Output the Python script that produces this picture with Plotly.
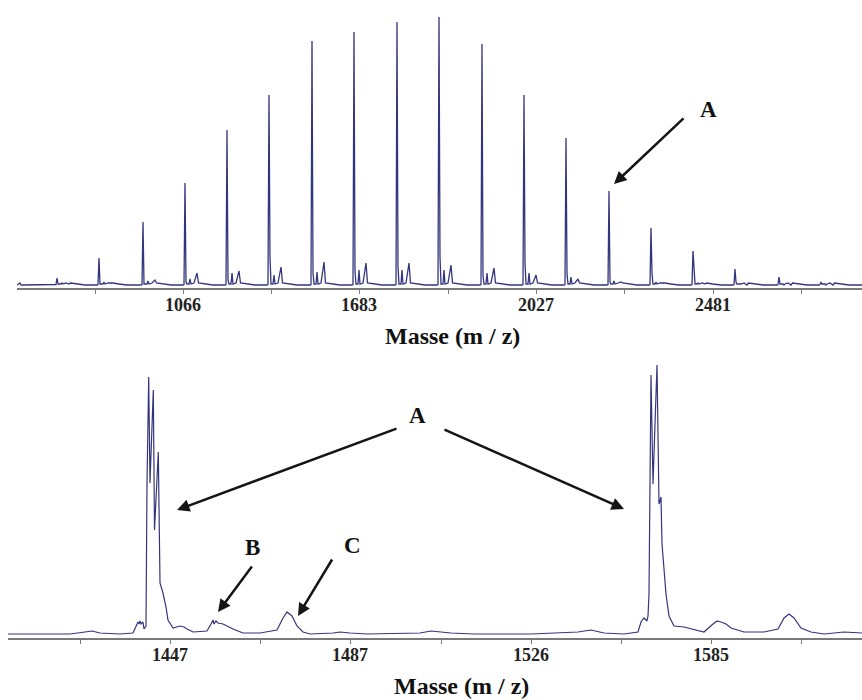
import plotly.graph_objects as go

# ---------------- data ----------------
# Top spectrum: main peak positions (axis units) and intensities
top_peak_pos = [57, 99, 143, 185, 227, 269, 312, 354, 397, 439, 482, 524, 566, 609, 651, 693, 735, 779, 821]
top_peak_h = [7, 27, 63, 102, 155, 190, 244, 253, 263, 268, 241, 190, 147, 94, 57, 34, 16, 8, 3]
top_shoulder_h = [0, 1, 1, 3, 5, 28, 12, 14, 18, 28, 10, 22, 12, 3, 12, 18, 3, 0, 0]
top_sat1_h = [2, 3, 4, 6, 12, 10, 13, 15, 15, 15, 12, 12, 8, 4, 3, 2, 1, 0, 0]
top_sat2_h = [1, 2, 5, 12, 14, 18, 23, 22, 22, 20, 17, 10, 6, 3, 2, 1, 0, 0, 0]
top_tick_pos = [95, 183, 271, 359, 448, 536, 624, 713, 801]
top_tick_text = ["", "1066", "", "1683", "", "2027", "", "2481", ""]

# Bottom spectrum (zoom): traced profile
bot_x = [8, 70, 85, 92, 100, 120, 133, 136, 138, 139, 140, 141, 143, 144, 146, 147, 148.7, 150, 151.5,
         153.3, 154.5, 156.5, 158.3, 160, 163, 166, 168, 173, 177, 180, 184, 187, 193, 207, 211, 213,
         214, 216, 218, 223, 233, 243, 260, 277, 283, 287, 292, 297, 303, 310, 333, 340, 350, 367,
         420, 431, 451, 474, 531, 564, 578, 591, 604, 624, 638, 641, 644, 647, 648, 649, 651, 653,
         655, 657, 659, 661, 662, 664, 666, 669, 674, 684, 698, 704, 713, 717, 721, 726, 731, 744,
         764, 778, 784, 789, 794, 801, 811, 824, 844, 862]
bot_y = [0, 0, 2, 3, 1, 0, 1, 8, 12, 10, 13, 10, 12, 5, 8, 150, 257, 151, 200,
         244, 104, 150, 182, 51, 41, 27, 14, 6, 7, 8, 7, 5, 2, 3, 10, 14,
         10, 13, 11, 10, 5, 1, 1, 4, 16, 22, 18, 8, 2, 0, 1, 2, 1, 0,
         1, 3, 1, 0, 0, 1, 2, 4, 1, 0, 2, 12, 16, 13, 18, 40, 259, 150,
         220, 269, 130, 137, 90, 60, 40, 18, 8, 7, 3, 2, 10, 13, 12, 10, 6, 2,
         2, 5, 16, 20, 16, 6, 2, 0, 2, 1]
bot_tick_pos = [80, 170, 260, 350, 441, 531, 621, 711, 801]
bot_tick_text = ["", "1447", "", "1487", "", "1526", "", "1585", ""]

axis_title = "Masse (m / z)"

# ---------------- build top stick spectrum from the peak table ----------------
tx, ty = [17, 20, 21, 22, 40], [0, 2, 0, 0, 0]
for p, h, sh, s1, s2 in zip(top_peak_pos, top_peak_h, top_shoulder_h, top_sat1_h, top_sat2_h):
    tx += [p - 2, p - 1, p, p + 1, p + 2, p + 4, p + 5, p + 6, p + 9, p + 12, p + 13.5, p + 20, p + 28]
    ty += [0, 0.5, h, max(sh, 1), 1, 1, s1, 1, 2, s2, 2, 1, 0]
tx += [862]
ty += [0]

LINE = "#35357f"
SERIF = "Liberation Serif"

fig = go.Figure()
fig.add_trace(go.Scatter(x=tx, y=ty, mode="lines", line=dict(color=LINE, width=1.3),
                         xaxis="x", yaxis="y", showlegend=False, hoverinfo="skip"))
fig.add_trace(go.Scatter(x=bot_x, y=bot_y, mode="lines", line=dict(color=LINE, width=1.2),
                         xaxis="x2", yaxis="y2", showlegend=False, hoverinfo="skip"))

W, H = 862, 700
axis_common = dict(showgrid=False, zeroline=False, showline=True, linecolor="#7a7a7a", linewidth=2,
                   ticks="outside", ticklen=4, tickcolor="#7a7a7a", tickwidth=1,
                   ticklabelstandoff=-5,
                   tickfont=dict(family=SERIF, size=18, color="#222", weight="bold"),
                   tickmode="array", mirror=False)

fig.update_layout(
    width=W, height=H, margin=dict(l=0, r=0, t=0, b=0),
    paper_bgcolor="white", plot_bgcolor="white",
    xaxis=dict(domain=[17 / W, 1], range=[17, 862], anchor="y",
               tickvals=top_tick_pos, ticktext=top_tick_text, **axis_common),
    yaxis=dict(domain=[(H - 288) / H, (H - 10) / H], range=[-3, 275], anchor="x",
               visible=False, fixedrange=True),
    xaxis2=dict(domain=[8 / W, 1], range=[8, 862], anchor="y2",
                tickvals=bot_tick_pos, ticktext=bot_tick_text, **axis_common),
    yaxis2=dict(domain=[(H - 638) / H, (H - 362) / H], range=[-4, 272], anchor="x2",
                visible=False, fixedrange=True),
)

ann = []
title_font = dict(family=SERIF, size=24, color="#111", weight="bold")
ann.append(dict(text=axis_title, x=452 / W, y=(H - 336) / H, xref="paper", yref="paper",
                showarrow=False, font=title_font, xanchor="center", yanchor="middle"))
ann.append(dict(text=axis_title, x=461 / W, y=(H - 686) / H, xref="paper", yref="paper",
                showarrow=False, font=title_font, xanchor="center", yanchor="middle"))

letter_font = dict(family=SERIF, size=23, color="#111", weight="bold")
for txt, xr, yr, x, y in [("A", "x", "y", 708, 175), ("A", "x2", "y2", 417, 219),
                          ("B", "x2", "y2", 252, 87), ("C", "x2", "y2", 352, 89)]:
    ann.append(dict(text=txt, x=x, y=y, xref=xr, yref=yr, showarrow=False, font=letter_font,
                    xanchor="center", yanchor="middle"))

arrow_style = dict(text="", showarrow=True, arrowhead=2, arrowsize=1, arrowwidth=2.5,
                   arrowcolor="#151515", standoff=0)
for xr, yr, hx, hy, tx_, ty_ in [("x", "y", 614, 101, 685, 168),
                                 ("x2", "y2", 177, 124, 398, 206),
                                 ("x2", "y2", 624, 125, 443, 205),
                                 ("x2", "y2", 218, 22, 253, 69),
                                 ("x2", "y2", 298, 18, 333, 76)]:
    ann.append(dict(x=hx, y=hy, ax=tx_, ay=ty_, xref=xr, yref=yr, axref=xr, ayref=yr, **arrow_style))

fig.update_layout(annotations=ann)
fig.write_html("out.html", config={"displayModeBar": False},
               post_script="document.body.style.margin='0';document.body.style.overflow='hidden';")
